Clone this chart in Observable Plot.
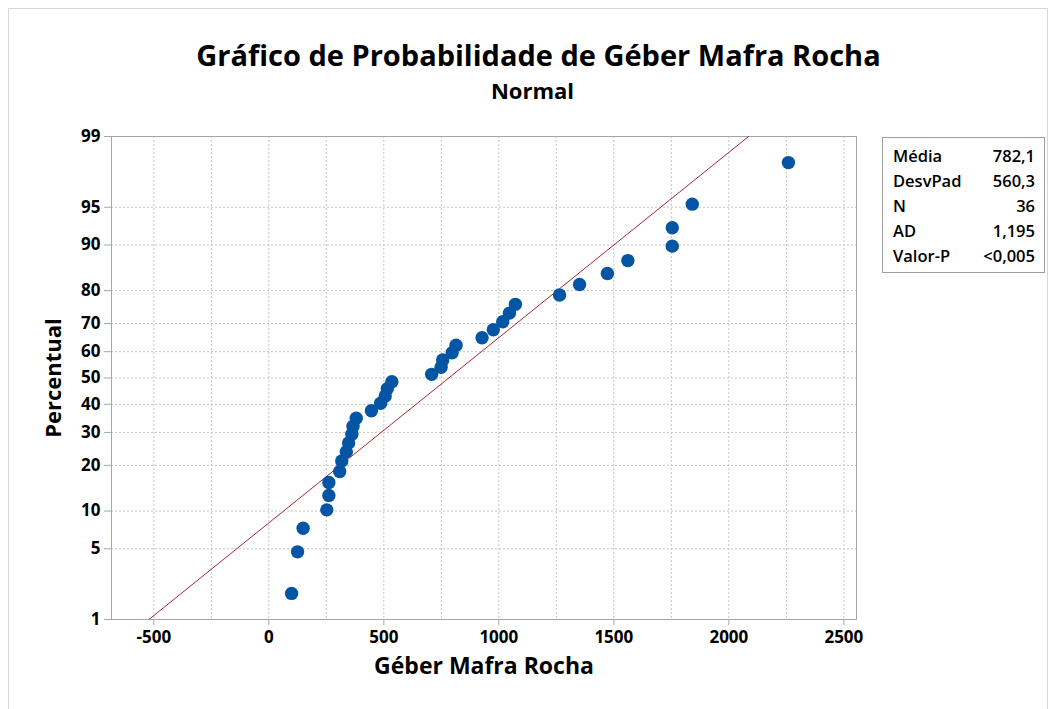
<!DOCTYPE html>
<html>
<head>
<meta charset="utf-8">
<script src="https://cdn.jsdelivr.net/npm/d3@7"></script>
<script src="https://cdn.jsdelivr.net/npm/@observablehq/plot@0.6"></script>
<style>
  html, body { margin: 0; padding: 0; background: #fff; }
  #wrap { position: relative; width: 1057px; height: 709px; overflow: hidden; font-family: "Open Sans", "Noto Sans", sans-serif; color: #000; }
  #border { position: absolute; left: 8px; top: 8px; width: 1040px; height: 720px; border: 1px solid #d8d8d8; box-sizing: border-box; }
  .ttl { position: absolute; left: 10px; width: 1057px; text-align: center; font-weight: bold; line-height: 1; white-space: nowrap; }
  #title { top: 40px; font-size: 29px; }
  #subtitle { top: 79px; font-size: 22px; left: 4px; }
  #chart { position: absolute; left: 0; top: 120px; }
  #legend { position: absolute; left: 882px; top: 137px; width: 163px; height: 136px; border: 1px solid #a0a0a0; box-sizing: border-box; background: #fff; }
  #legend table { position: absolute; left: 10px; top: 6px; width: 142px; border-collapse: collapse; font-size: 16.5px; font-weight: 600; }
  #legend td { padding: 0; height: 25px; line-height: 1; }
  #legend td.v { text-align: right; }
</style>
</head>
<body>
<div id="wrap">
  <div id="border"></div>
  <div id="title" class="ttl">Gráfico de Probabilidade de Géber Mafra Rocha</div>
  <div id="subtitle" class="ttl">Normal</div>
  <div id="chart"></div>
  <div id="legend"><table id="legtable"></table></div>
</div>
<script>
// ---- data ----
const values = [99, 125, 149, 252, 261, 261, 308, 317, 337, 347, 361, 366, 380, 446, 486, 506, 515, 535,
                708, 749, 756, 797, 814, 927, 976, 1017, 1046, 1072, 1264, 1351, 1472, 1561, 1754, 1754, 1841, 2259];
const percents = [1.9, 4.7, 7.4, 10.2, 12.9, 15.7, 18.4, 21.2, 23.9, 26.6, 29.4, 32.1, 34.9, 37.6, 40.4, 43.1, 45.9, 48.6,
                  51.4, 54.1, 56.9, 59.6, 62.4, 65.1, 67.9, 70.6, 73.4, 76.1, 78.8, 81.6, 84.3, 87.1, 89.8, 92.6, 95.3, 98.1];
const yTicks = [1, 5, 10, 20, 30, 40, 50, 60, 70, 80, 90, 95, 99];
const yGrid = [5, 10, 20, 30, 40, 50, 60, 70, 80, 90, 95];
const xTicks = [-500, 0, 500, 1000, 1500, 2000, 2500];
const xGrid = [-500, -250, 0, 250, 500, 750, 1000, 1250, 1500, 1750, 2000, 2250, 2500];
const fitPercents = [1, 99];
const statLabels = ["Média", "DesvPad", "N", "AD", "Valor-P"];
const statValues = ["782,1", "560,3", "36", "1,195", "<0,005"];
const media = 782.1, desvPad = 560.3;

// inverse normal CDF (probability scale transform)
function qnorm(p) {
  const a = [-3.969683028665376e+01, 2.209460984245205e+02, -2.759285104469687e+02, 1.383577518672690e+02, -3.066479806614716e+01, 2.506628277459239e+00];
  const b = [-5.447609879822406e+01, 1.615858368580409e+02, -1.556989798598866e+02, 6.680131188771972e+01, -1.328068155288572e+01];
  const c = [-7.784894002430293e-03, -3.223964580411365e-01, -2.400758277161838e+00, -2.549732539343734e+00, 4.374664141464968e+00, 2.938163982698783e+00];
  const d = [7.784695709041462e-03, 3.224671290700398e-01, 2.445134137142996e+00, 3.754408661907416e+00];
  const pl = 0.02425, ph = 1 - pl;
  let q, r;
  if (p < pl) {
    q = Math.sqrt(-2 * Math.log(p));
    return (((((c[0]*q+c[1])*q+c[2])*q+c[3])*q+c[4])*q+c[5]) / ((((d[0]*q+d[1])*q+d[2])*q+d[3])*q+1);
  } else if (p <= ph) {
    q = p - 0.5; r = q * q;
    return (((((a[0]*r+a[1])*r+a[2])*r+a[3])*r+a[4])*r+a[5])*q / (((((b[0]*r+b[1])*r+b[2])*r+b[3])*r+b[4])*r+1);
  } else {
    q = Math.sqrt(-2 * Math.log(1 - p));
    return -(((((c[0]*q+c[1])*q+c[2])*q+c[3])*q+c[4])*q+c[5]) / ((((d[0]*q+d[1])*q+d[2])*q+d[3])*q+1);
  }
}
const z = p => qnorm(p / 100);

const points = values.map((v, i) => ({x: v, z: z(percents[i])}));
const fit = fitPercents.map(p => ({x: media + desvPad * z(p), z: z(p)}));
const zTicks = yTicks.map(z);
const tickLabel = d => { const i = zTicks.findIndex(t => Math.abs(t - d) < 1e-9); return i >= 0 ? String(yTicks[i]) : ""; };

const chart = Plot.plot({
  width: 1057,
  height: 589,
  marginLeft: 111,
  marginRight: 201,
  marginTop: 16,
  marginBottom: 90,
  style: { fontFamily: "'Open Sans', 'Noto Sans', sans-serif", fontSize: "17px", fontWeight: "bold", color: "#000", background: "transparent", overflow: "visible" },
  x: { domain: [-684, 2555], label: null },
  y: { domain: [z(1), z(99)], label: null },
  marks: [
    Plot.gridX(xGrid, { stroke: "#c4c4c4", strokeOpacity: 1, strokeDasharray: "2,2" }),
    Plot.gridY(yGrid.map(z), { stroke: "#c4c4c4", strokeOpacity: 1, strokeDasharray: "2,2" }),
    Plot.frame({ stroke: "#a6a6a6" }),
    Plot.axisX(xTicks, { tickSize: 6, tickPadding: 5, stroke: "#a6a6a6", fill: "#000", fontSize: 17, fontWeight: "bold", tickFormat: d => String(d) }),
    Plot.axisY(zTicks, { tickSize: 7, tickPadding: 4, stroke: "#a6a6a6", fill: "#000", fontSize: 17, fontWeight: "bold", tickFormat: tickLabel }),
    Plot.text(["Percentual"], { frameAnchor: "left", textAnchor: "middle", dx: -58, rotate: -90, fontSize: 22, fontWeight: "bold", fill: "#000" }),
    Plot.text(["Géber Mafra Rocha"], { frameAnchor: "bottom", dy: 54, fontSize: 23, fontWeight: "bold", fill: "#000" }),
    Plot.line(fit, { x: "x", y: "z", stroke: "#a82a2a", strokeWidth: 1 }),
    Plot.dot(points, { x: "x", y: "z", r: 6.7, fill: "#0455a4", stroke: "none" })
  ]
});
document.getElementById("chart").appendChild(chart);

const tbl = document.getElementById("legtable");
statLabels.forEach((lab, i) => {
  const tr = document.createElement("tr");
  const a = document.createElement("td"); a.textContent = lab;
  const b = document.createElement("td"); b.className = "v"; b.textContent = statValues[i];
  tr.appendChild(a); tr.appendChild(b); tbl.appendChild(tr);
});
</script>
</body>
</html>
